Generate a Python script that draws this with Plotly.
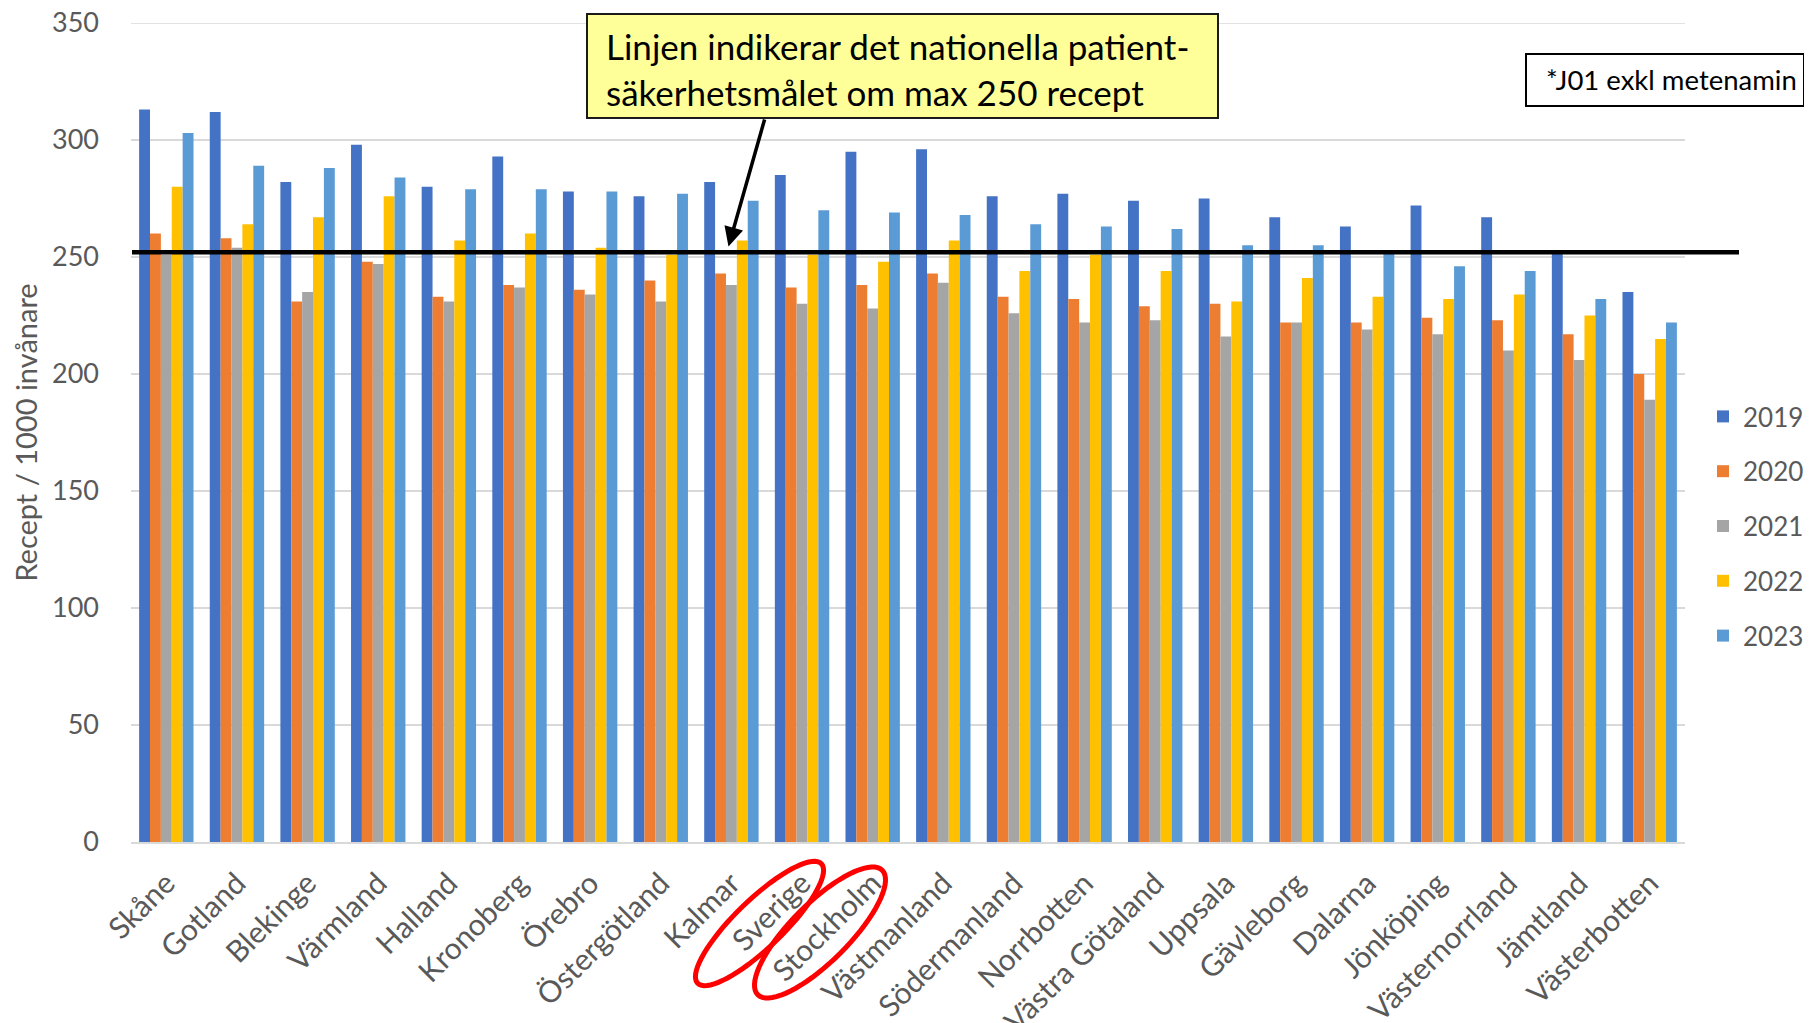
import math
import plotly.graph_objects as go

# ---------------- data ----------------
regions = ["Skåne", "Gotland", "Blekinge", "Värmland", "Halland", "Kronoberg", "Örebro",
           "Östergötland", "Kalmar", "Sverige", "Stockholm", "Västmanland", "Södermanland",
           "Norrbotten", "Västra Götaland", "Uppsala", "Gävleborg", "Dalarna", "Jönköping",
           "Västernorrland", "Jämtland", "Västerbotten"]

years = ["2019", "2020", "2021", "2022", "2023"]

v2019 = [313, 312, 282, 298, 280, 293, 278, 276, 282, 285, 295, 296, 276, 277, 274, 275, 267, 263, 272, 267, 253, 235]
v2020 = [260, 258, 231, 248, 233, 238, 236, 240, 243, 237, 238, 243, 233, 232, 229, 230, 222, 222, 224, 223, 217, 200]
v2021 = [251, 254, 235, 247, 231, 237, 234, 231, 238, 230, 228, 239, 226, 222, 223, 216, 222, 219, 217, 210, 206, 189]
v2022 = [280, 264, 267, 276, 257, 260, 254, 251, 257, 251, 248, 257, 244, 251, 244, 231, 241, 233, 232, 234, 225, 215]
v2023 = [303, 289, 288, 284, 279, 279, 278, 277, 274, 270, 269, 268, 264, 263, 262, 255, 255, 253, 246, 244, 232, 222]

target_line = 252
y_max = 350
y_ticks = [0, 50, 100, 150, 200, 250, 300, 350]

colors = ["#4472C4", "#ED7D31", "#A5A5A5", "#FFC000", "#5B9BD5"]

note_text = "Linjen indikerar det nationella patient-<br>säkerhetsmålet om max 250 recept"
footnote_text = "*J01 exkl metenamin"
y_title = "Recept / 1000 invånare"

# ---------------- geometry helpers (screen pixels -> paper) ----------------
OFF = 8                      # default body margin of the html page
W, H = 1812 - OFF, 1023 - OFF
ML, MR, MT, MB = 123, 127, 15, 181
PW = W - ML - MR
PH = H - MT - MB


def px(x):
    return (x - OFF - ML) / PW


def py(y):
    return (H - MB - (y - OFF)) / PH


def ellipse_path(cx, cy, a, b, ang_deg, n=72):
    t = math.radians(ang_deg)
    pts = []
    for i in range(n + 1):
        s = 2 * math.pi * i / n
        ex, ey = a * math.cos(s), b * math.sin(s)
        X = cx + ex * math.cos(t) - ey * math.sin(t)
        Y = cy + ex * math.sin(t) + ey * math.cos(t)
        pts.append((px(X), py(Y)))
    return "M " + " L ".join(f"{x:.5f},{y:.5f}" for x, y in pts) + " Z"


FONT = "Lato, 'Open Sans', sans-serif"
GREY = "#595959"
GRID = "#D9D9D9"

fig = go.Figure()
for name, vals, col in zip(years, [v2019, v2020, v2021, v2022, v2023], colors):
    fig.add_trace(go.Bar(name=name, x=regions, y=vals, marker_color=col,
                         marker_line_width=0, legendgroup=name))

fig.update_layout(
    width=W, height=H,
    margin=dict(l=ML, r=MR, t=MT, b=MB, autoexpand=False),
    paper_bgcolor="white", plot_bgcolor="white",
    barmode="group", bargap=0.23, bargroupgap=0,
    font=dict(family=FONT, color=GREY, size=26),
    legend=dict(x=px(1703), xanchor="left", y=py(393), yanchor="top",
                font=dict(size=26, color=GREY), tracegroupgap=18,
                bgcolor="rgba(0,0,0,0)"),
    xaxis=dict(tickangle=-45, showgrid=False, showline=True, linecolor=GRID,
               linewidth=1.5, ticks="", ticklabelstandoff=10,
               tickfont=dict(size=30, color=GREY)),
    yaxis=dict(range=[0, y_max], tickvals=y_ticks, showgrid=True, gridcolor=GRID,
               gridwidth=1.5, zeroline=False, showline=False, ticks="",
               ticklabelstandoff=31, tickfont=dict(size=27, color=GREY),
               ticklabeloverflow="allow",
               title=dict(text=y_title, font=dict(size=29, color=GREY), standoff=14)),
)

# top gridline (at the edge of the range)
fig.add_shape(type="line", xref="paper", yref="y", x0=0, x1=1, y0=y_max, y1=y_max,
              line=dict(color=GRID, width=1.5), layer="below")

# target line
fig.add_shape(type="line", xref="paper", yref="y", x0=px(132), x1=px(1739),
              y0=target_line, y1=target_line, line=dict(color="black", width=4.5), layer="above")

# yellow note box
fig.add_shape(type="rect", xref="paper", yref="paper", x0=px(587), x1=px(1218),
              y0=py(118), y1=py(14), fillcolor="#FFFF99", line=dict(color="#1a1a1a", width=2))
fig.add_annotation(xref="paper", yref="paper", x=px(604), y=py(68.5), xanchor="left",
                   yanchor="middle", align="left", showarrow=False, text=note_text,
                   font=dict(size=35, color="black", family=FONT))

# arrow
fig.add_annotation(xref="paper", yref="paper", x=px(728.5), y=py(246.5), text="",
                   showarrow=True, axref="pixel", ayref="pixel", ax=36.5, ay=-128.5,
                   arrowhead=2, arrowsize=1.1, arrowwidth=3.5, arrowcolor="black", standoff=0)

# footnote box
fig.add_shape(type="rect", xref="paper", yref="paper", x0=px(1526), x1=px(1804),
              y0=py(106), y1=py(54), fillcolor="white", line=dict(color="black", width=2))
fig.add_annotation(xref="paper", yref="paper", x=px(1671), y=py(80), xanchor="center",
                   yanchor="middle", showarrow=False, text=footnote_text,
                   font=dict(size=27.5, color="black", family=FONT))

# red ellipses
fig.add_shape(type="path", xref="paper", yref="paper",
              path=ellipse_path(759.5, 923.5, 86, 24, -44), line=dict(color="#FF0000", width=5))
fig.add_shape(type="path", xref="paper", yref="paper",
              path=ellipse_path(820, 932.5, 88, 29, -45), line=dict(color="#FF0000", width=5))

fig.write_html("out.html")
